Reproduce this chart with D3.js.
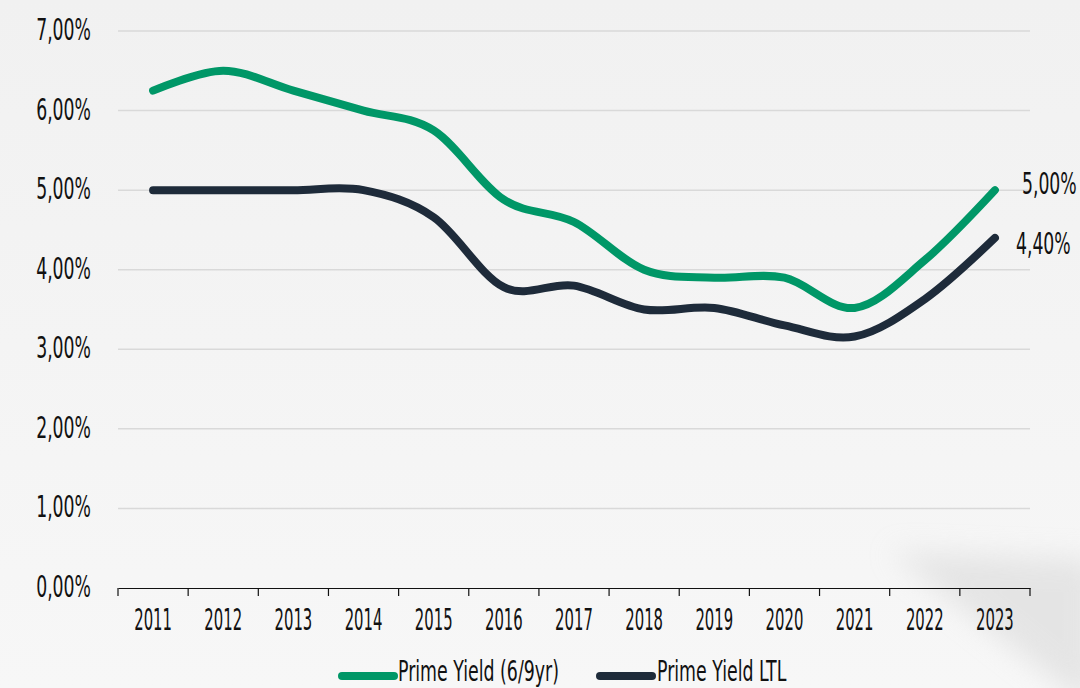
<!DOCTYPE html>
<html>
<head>
<meta charset="utf-8">
<script src="https://cdn.jsdelivr.net/npm/d3@7"></script>
<style>
  html, body { margin: 0; padding: 0; background: #f4f4f4; }
  svg { display: block; }
  text { font-family: "DejaVu Sans Condensed", "DejaVu Sans", sans-serif; fill: #111; }
</style>
</head>
<body>
<svg id="chart" width="1080" height="688"></svg>
<script>
// ---- data ----
const years = ["2011","2012","2013","2014","2015","2016","2017","2018","2019","2020","2021","2022","2023"];
const primeYield69 = [6.25, 6.50, 6.25, 6.00, 5.75, 4.88, 4.60, 4.00, 3.90, 3.90, 3.52, 4.12, 5.00];
const primeYieldLTL = [5.00, 5.00, 5.00, 5.00, 4.66, 3.78, 3.80, 3.50, 3.52, 3.30, 3.16, 3.63, 4.40];
const yTicks = [0, 1, 2, 3, 4, 5, 6, 7];
const seriesNames = ["Prime Yield (6/9yr)", "Prime Yield LTL"];
const seriesColors = ["#009767", "#1e2b3a"];

const W = 1080, H = 688;
const svg = d3.select("#chart");

// background
const defs = svg.append("defs");
const bg = defs.append("linearGradient").attr("id","bg").attr("x1",0).attr("y1",0).attr("x2",0).attr("y2",1);
bg.append("stop").attr("offset","0%").attr("stop-color","#f1f1f1");
bg.append("stop").attr("offset","100%").attr("stop-color","#f7f7f7");
svg.append("rect").attr("width",W).attr("height",H).attr("fill","url(#bg)");

// soft corner shadow (decoration)
const blur = defs.append("filter").attr("id","blur").attr("x","-50%").attr("y","-50%").attr("width","200%").attr("height","200%");
blur.append("feGaussianBlur").attr("stdDeviation", 14);
svg.append("path")
  .attr("d","M890,552 L1095,560 L1095,700 L1080,700 Z")
  .attr("fill","#d9d9d9").attr("opacity",0.6).attr("filter","url(#blur)");

// scales
const x = d3.scaleBand().domain(years).range([118, 1030]).padding(0);
const y = d3.scaleLinear().domain([0, 7]).range([588, 31]);
const cx = d => x(d) + x.bandwidth() / 2;
const fmt = v => d3.format(".2f")(v).replace(".", ",") + "%";

// gridlines
svg.append("g").selectAll("line").data(yTicks.filter(t => t > 0)).join("line")
  .attr("x1", 118).attr("x2", 1030)
  .attr("y1", d => y(d)).attr("y2", d => y(d))
  .attr("stroke", "#d9d9d9").attr("stroke-width", 1.5);

// y labels
svg.append("g").selectAll("text").data(yTicks).join("text")
  .attr("transform", d => `translate(91,${y(d) + 9}) scale(0.64,1)`)
  .attr("text-anchor", "end")
  .attr("font-size", 30)
  .text(fmt);

// x axis
const xAxis = svg.append("g").attr("transform", "translate(0,588)")
  .call(d3.axisBottom(x).tickSizeInner(0).tickSizeOuter(0).tickPadding(0));
xAxis.select(".domain").attr("stroke", "#111").attr("stroke-width", 1.2);
xAxis.selectAll(".tick text").remove();
// tick marks at band edges
const edges = years.map(d => x(d)).concat([x(years[years.length - 1]) + x.bandwidth()]);
xAxis.selectAll("line.edge").data(edges).join("line").attr("class","edge")
  .attr("x1", d => d).attr("x2", d => d).attr("y1", 0).attr("y2", 8)
  .attr("stroke", "#111").attr("stroke-width", 1.2);
xAxis.selectAll("text.yl").data(years).join("text").attr("class","yl")
  .attr("transform", d => `translate(${cx(d)},42) scale(0.55,1)`)
  .attr("text-anchor", "middle")
  .attr("font-size", 30)
  .attr("fill", "#111")
  .text(d => d);

// lines
const line = d3.line().x((d, i) => cx(years[i])).y(d => y(d)).curve(d3.curveCardinal.tension(0));
[primeYield69, primeYieldLTL].forEach((vals, k) => {
  svg.append("path").datum(vals)
    .attr("d", line)
    .attr("fill", "none")
    .attr("stroke", seriesColors[k])
    .attr("stroke-width", 8)
    .attr("stroke-linecap", "round")
    .attr("stroke-linejoin", "round");
});

// end labels
const endOffsets = [[27, 4], [21, 16]];
[primeYield69, primeYieldLTL].forEach((vals, k) => {
  const last = vals[vals.length - 1];
  svg.append("text")
    .attr("transform", `translate(${cx(years[years.length - 1]) + endOffsets[k][0]},${y(last) + endOffsets[k][1]}) scale(0.64,1)`)
    .attr("font-size", 30)
    .text(fmt(last));
});

// legend
const legendItems = [{sx: 342, tx: 398}, {sx: 600, tx: 657}];
legendItems.forEach((it, k) => {
  svg.append("line")
    .attr("x1", it.sx).attr("x2", it.sx + 52)
    .attr("y1", 676).attr("y2", 676)
    .attr("stroke", seriesColors[k]).attr("stroke-width", 8).attr("stroke-linecap", "round");
  svg.append("text")
    .attr("transform", `translate(${it.tx},681) scale(0.69,1)`)
    .attr("font-size", 28)
    .text(seriesNames[k]);
});
</script>
</body>
</html>
